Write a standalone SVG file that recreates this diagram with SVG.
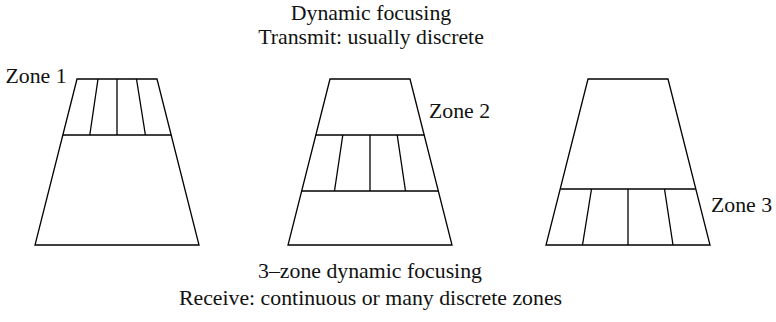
<svg xmlns="http://www.w3.org/2000/svg" width="776" height="322" viewBox="0 0 776 322">
<style>
  .s { fill: none; stroke: #000; stroke-width: 1.3; stroke-linejoin: miter; }
  .t { font-family: "Liberation Serif", "Times New Roman", serif; font-size: 21.8px; fill: #111; }
  .c { text-anchor: middle; }
</style>
<rect width="776" height="322" fill="#fff"/>
<g id="title">
  <text class="t c" x="371" y="20">Dynamic focusing</text>
  <text class="t c" x="371" y="44">Transmit: usually discrete</text>
</g>
<g id="zone1">
  <polygon class="s" points="77,79 157,79 199,245 35,245"/>
  <line class="s" x1="62.8" y1="135" x2="171.2" y2="135"/>
  <line class="s" x1="98" y1="79" x2="89.8" y2="135"/>
  <line class="s" x1="117" y1="79" x2="117" y2="135"/>
  <line class="s" x1="136.5" y1="79" x2="145.4" y2="135"/>
  <text class="t" x="5.5" y="83">Zone 1</text>
</g>
<g id="zone2">
  <polygon class="s" points="330,79 410,79 452,245 288,245"/>
  <line class="s" x1="315.8" y1="135" x2="424.2" y2="135"/>
  <line class="s" x1="301.7" y1="191" x2="438.3" y2="191"/>
  <line class="s" x1="342.8" y1="135" x2="334.5" y2="191"/>
  <line class="s" x1="370" y1="135" x2="370" y2="191"/>
  <line class="s" x1="397.2" y1="135" x2="405.5" y2="191"/>
  <text class="t" x="429" y="118.3">Zone 2</text>
</g>
<g id="zone3">
  <polygon class="s" points="588,79 668,79 710,245 546,245"/>
  <line class="s" x1="560.2" y1="189" x2="695.8" y2="189"/>
  <line class="s" x1="591.5" y1="189" x2="582.5" y2="245"/>
  <line class="s" x1="628" y1="189" x2="628" y2="245"/>
  <line class="s" x1="664.5" y1="189" x2="673" y2="245"/>
  <text class="t" x="711" y="211.7">Zone 3</text>
</g>
<g id="captions">
  <text class="t c" x="370" y="278">3–zone dynamic focusing</text>
  <text class="t c" x="370.5" y="305">Receive: continuous or many discrete zones</text>
</g>
<g id="connectors"/>
</svg>
